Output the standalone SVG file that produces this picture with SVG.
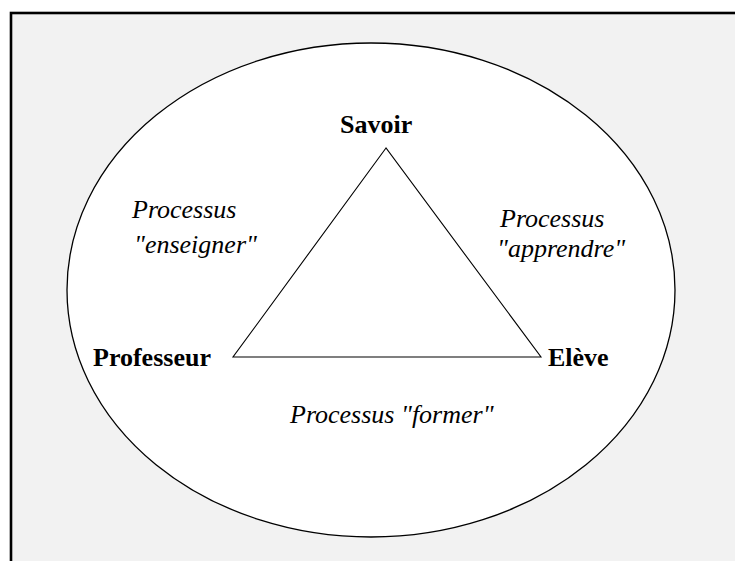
<svg xmlns="http://www.w3.org/2000/svg" width="735" height="561" viewBox="0 0 735 561">
<style>
.bold{font-family:"Liberation Serif","Times New Roman",serif;font-size:26px;font-weight:bold;fill:#000}
.ital{font-family:"Liberation Serif","Times New Roman",serif;font-size:26px;font-style:italic;fill:#000}
.shape{stroke:#000;fill:#fff}
</style>
<rect x="0" y="0" width="735" height="561" fill="#fff"/>
<rect x="11" y="13" width="800" height="600" fill="#f2f2f2" stroke="#000" stroke-width="2.6"/>
<g id="frame">
<ellipse class="shape" cx="371" cy="290" rx="304" ry="247" stroke-width="1.3"/>
</g>
<g id="connectors">
<polygon points="386,148 233,357 541,357" fill="none" stroke="#000" stroke-width="1.1"/>
</g>
<g id="savoir"><text class="bold" x="340" y="133">Savoir</text></g>
<g id="professeur"><text class="bold" x="93" y="366">Professeur</text></g>
<g id="eleve"><text class="bold" x="548" y="366">Elève</text></g>
<g id="enseigner"><text class="ital" x="132" y="218">Processus</text><text class="ital" x="134" y="253">"enseigner"</text></g>
<g id="apprendre"><text class="ital" x="500" y="227">Processus</text><text class="ital" x="497" y="257">"apprendre"</text></g>
<g id="former"><text class="ital" x="290" y="423">Processus "former"</text></g>
</svg>
